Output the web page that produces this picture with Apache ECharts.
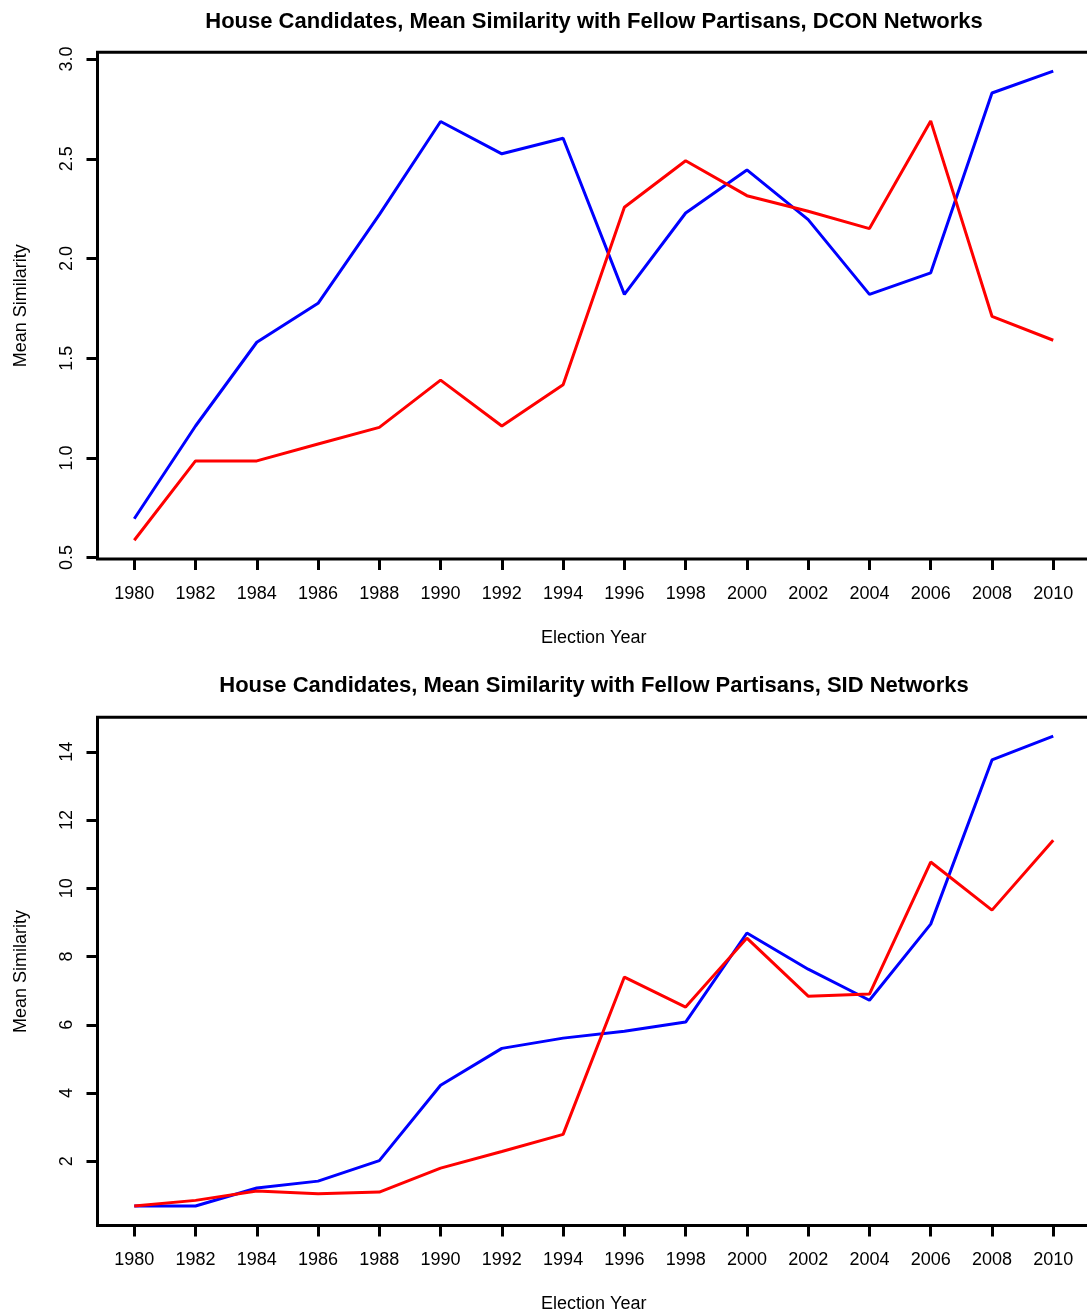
<!DOCTYPE html>
<html>
<head>
<meta charset="utf-8">
<script src="https://cdn.jsdelivr.net/npm/echarts@6/dist/echarts.min.js"></script>
<style>
html,body{margin:0;padding:0;background:#fff;}
#chart{width:1087px;height:1315px;}
</style>
</head>
<body>
<div id="chart"></div>
<script>
// ---- data ----
const years = [1980,1982,1984,1986,1988,1990,1992,1994,1996,1998,2000,2002,2004,2006,2008,2010];
const xTicks = [1980,1982,1984,1986,1988,1990,1992,1994,1996,1998,2000,2002,2004,2006,2008,2010];

const dconBlue = [0.695,1.16,1.58,1.775,2.22,2.687,2.525,2.603,1.82,2.228,2.444,2.195,1.82,1.928,2.83,2.94];
const dconRed  = [0.587,0.985,0.985,1.07,1.153,1.39,1.16,1.367,2.257,2.49,2.315,2.237,2.15,2.69,1.71,1.59];
const dconYTicks = [0.5,1.0,1.5,2.0,2.5,3.0];

const sidBlue = [0.69,0.69,1.22,1.42,2.02,4.23,5.31,5.61,5.81,6.08,8.69,7.63,6.72,8.95,13.76,14.46];
const sidRed  = [0.69,0.856,1.13,1.05,1.10,1.80,2.29,2.79,7.40,6.52,8.54,6.84,6.90,10.77,9.36,11.41];
const sidYTicks = [2,4,6,8,10,12,14];

const titles = [
  'House Candidates, Mean Similarity with Fellow Partisans, DCON Networks',
  'House Candidates, Mean Similarity with Fellow Partisans, SID Networks'
];
const xName = 'Election Year';
const yName = 'Mean Similarity';

// ---- chart ----
const FONT = 'Liberation Sans, Arial, Helvetica, sans-serif';
const chart = echarts.init(document.getElementById('chart'), null, {renderer:'canvas'});

function pairs(xs, ys){ return xs.map((x,i)=>[x, ys[i]]); }

function xAxisDef(gridIndex){
  return {
    type:'value', gridIndex, min:1978.8, max:2011.2,
    name:xName, nameLocation:'middle', nameGap:70,
    nameTextStyle:{fontSize:18, color:'#000', fontFamily:FONT},
    axisLine:{show:false},
    splitLine:{show:false},
    axisTick:{show:true, customValues:xTicks, length:11, lineStyle:{color:'#000', width:3}},
    axisLabel:{show:true, customValues:xTicks, margin:26, fontSize:18, color:'#000', fontFamily:FONT,
      formatter:v=>String(v)}
  };
}
function yAxisDef(gridIndex, min, max, ticks, fmt){
  return {
    type:'value', gridIndex, min, max,
    name:yName, nameLocation:'middle', nameGap:67, nameRotate:90,
    nameTextStyle:{fontSize:18, color:'#000', fontFamily:FONT},
    axisLine:{show:false},
    splitLine:{show:false},
    axisTick:{show:true, customValues:ticks, length:11, lineStyle:{color:'#000', width:3}},
    axisLabel:{show:true, customValues:ticks, rotate:90, margin:21, fontSize:18, color:'#000', fontFamily:FONT,
      formatter:fmt}
  };
}
const lineStyleBlue = {color:'#0000FF', width:3};
const lineStyleRed = {color:'#FF0000', width:3};
function series(idx, data, ls){
  return {type:'line', xAxisIndex:idx, yAxisIndex:idx, data, showSymbol:false, symbol:'none',
    lineStyle:ls, itemStyle:{color:ls.color}, animation:false, z:3};
}

chart.setOption({
  animation:false,
  backgroundColor:'#fff',
  title:[
    {text:titles[0], left:589, top:6, textAlign:'center',
     textStyle:{fontSize:22, fontWeight:'bold', color:'#000', fontFamily:FONT}},
    {text:titles[1], left:589, top:670, textAlign:'center',
     textStyle:{fontSize:22, fontWeight:'bold', color:'#000', fontFamily:FONT}}
  ],
  grid:[
    {left:97.5, top:52.3, width:992.5, height:506.7, outerBoundsMode:'none', containLabel:false,
     show:true, borderColor:'#000', borderWidth:3, backgroundColor:'transparent'},
    {left:97.5, top:717.3, width:992.5, height:508.2, outerBoundsMode:'none', containLabel:false,
     show:true, borderColor:'#000', borderWidth:3, backgroundColor:'transparent'}
  ],
  xAxis:[xAxisDef(0), xAxisDef(1)],
  yAxis:[
    yAxisDef(0, 0.493, 3.034, dconYTicks, v=>v.toFixed(1)),
    yAxisDef(1, 0.12, 15.01, sidYTicks, v=>String(v))
  ],
  series:[
    series(0, pairs(years, dconBlue), lineStyleBlue),
    series(0, pairs(years, dconRed), lineStyleRed),
    series(1, pairs(years, sidBlue), lineStyleBlue),
    series(1, pairs(years, sidRed), lineStyleRed)
  ]
});
</script>
</body>
</html>
